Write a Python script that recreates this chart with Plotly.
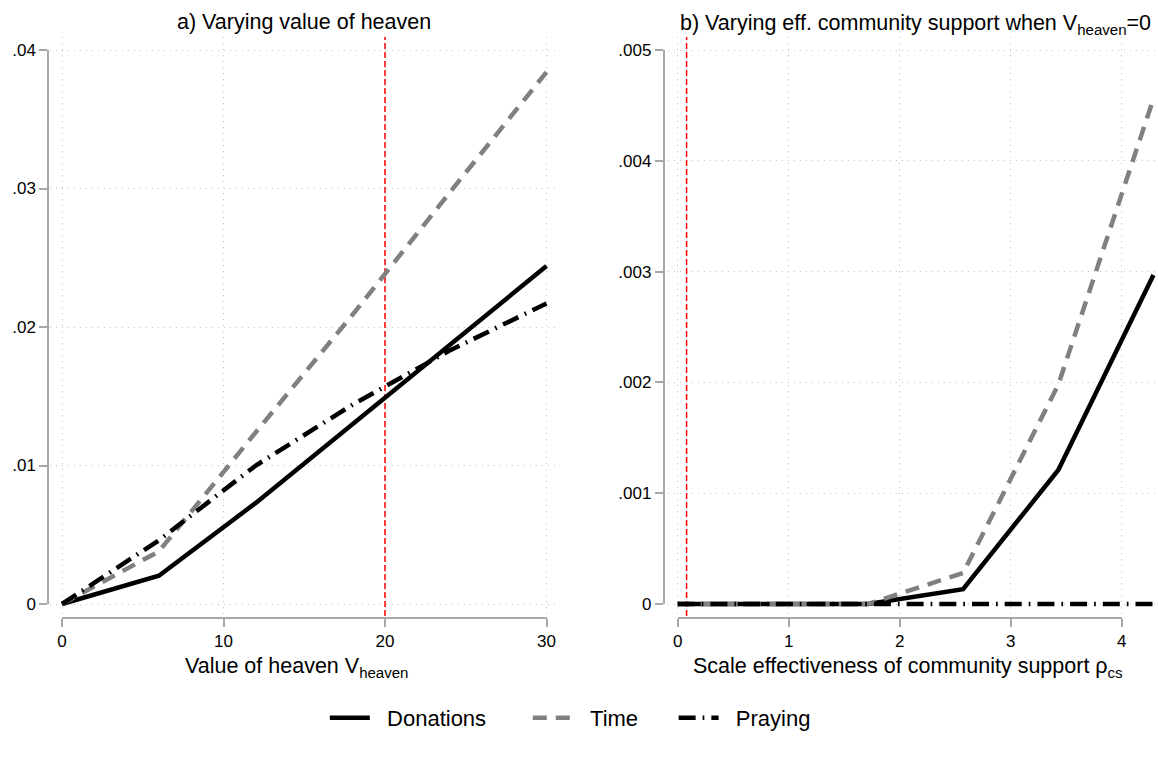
import plotly.graph_objects as go

# ---------------- data ----------------
x_heaven = [0, 6, 12, 18, 24, 30]
don_heaven = [0, 0.00204, 0.0073, 0.0130, 0.0188, 0.0244]
time_heaven = [0, 0.0038, 0.0124, 0.0209, 0.0297, 0.0384]
pray_heaven = [0, 0.0046, 0.0100, 0.0144, 0.0183, 0.0217]

x_cs = [0, 0.857, 1.714, 2.571, 3.429, 4.286]
don_cs = [0, 0, 0, 0.000133, 0.00121, 0.00297]
time_cs = [0, 0, 0, 0.00028, 0.00198, 0.00456]
pray_cs = [0, 0, 0, 0, 0, 0]

ref_heaven = 20
ref_cs = 0.08

xt_left = [0, 10, 20, 30]
yt_left = [0, 0.01, 0.02, 0.03, 0.04]
yt_left_txt = ["0", ".01", ".02", ".03", ".04"]
xt_right = [0, 1, 2, 3, 4]
yt_right = [0, 0.001, 0.002, 0.003, 0.004, 0.005]
yt_right_txt = ["0", ".001", ".002", ".003", ".004", ".005"]

names = ["Donations", "Time", "Praying"]

# ---------------- layout geometry (pixels) ----------------
W, H = 1158, 759
FONT = "Liberation Sans, Arial, Helvetica, sans-serif"
AX = "#a8a8a8"
GRID = "#c4c4c4"
NB = "\u00a0"

def px_x(p):
    return p / W

def px_y(p):
    return 1 - p / H

top_px, bot_px = 37, 616
y0_px, ytop_px = 604, 50
xaxis_line_px = 618

L_reg = (50, 555)
L_tick = (62, 546.5)
L_yline = 48
R_reg = (668, 1158)
R_tick = (677.7, 1121.7)
R_yline = 663.5

def lin_range(reg, tick, v0, v1):
    s = (tick[1] - tick[0]) / (v1 - v0)
    return [v0 + (reg[0] - tick[0]) / s, v0 + (reg[1] - tick[0]) / s]

def lin_range_y(v1):
    s = (y0_px - ytop_px) / v1
    return [-(bot_px - y0_px) / s, v1 + (ytop_px - top_px) / s]

yr_left = lin_range_y(0.04)
yr_right = lin_range_y(0.005)

styles = [
    dict(color="black", width=4.5, dash="solid"),
    dict(color="#808080", width=4.5, dash="14px,9px"),
    dict(color="black", width=4.5, dash="17px,7px,1.7px,7px"),
]
legend_labels = [NB * 2 + "Donations" + NB * 6,
                 NB * 2 + "Time" + NB * 5,
                 NB * 2 + "Praying"]

fig = go.Figure()
for i, ys in enumerate([don_heaven, time_heaven, pray_heaven]):
    fig.add_trace(go.Scatter(x=x_heaven, y=ys, mode="lines", name=legend_labels[i],
                             line=styles[i], xaxis="x", yaxis="y",
                             legendgroup=names[i], showlegend=True))
for i, ys in enumerate([don_cs, time_cs, pray_cs]):
    fig.add_trace(go.Scatter(x=x_cs, y=ys, mode="lines", name=names[i],
                             line=styles[i], xaxis="x2", yaxis="y2",
                             legendgroup=names[i], showlegend=False))
fig.add_trace(go.Scatter(x=[None], y=[None], xaxis="x3", yaxis="y3",
                         showlegend=False, hoverinfo="skip"))
fig.add_trace(go.Scatter(x=[None], y=[None], xaxis="x4", yaxis="y4",
                         showlegend=False, hoverinfo="skip"))

grid_common = dict(showgrid=True, gridcolor=GRID, gridwidth=1.2, griddash="1.2px,4.8px",
                   zeroline=False, showline=False, showticklabels=False, ticks="",
                   tickmode="array", fixedrange=True, automargin=False)
tick_common = dict(showgrid=False, zeroline=False, showline=True, linecolor=AX,
                   linewidth=1.5, ticks="outside", ticklen=8, tickwidth=1.5,
                   tickcolor=AX, tickfont=dict(family=FONT, size=17, color="black"),
                   tickmode="array", anchor="free", automargin=False)

dom_y = [px_y(bot_px), px_y(top_px)]
dom_ytick = [px_y(y0_px), px_y(ytop_px)]

fig.update_layout(
    xaxis=dict(domain=[px_x(L_reg[0]), px_x(L_reg[1])],
               range=lin_range(L_reg, L_tick, 0, 30), tickvals=xt_left,
               anchor="y", **grid_common),
    yaxis=dict(domain=dom_y, range=yr_left, tickvals=yt_left,
               anchor="x", **grid_common),
    xaxis2=dict(domain=[px_x(R_reg[0]), px_x(R_reg[1])],
                range=lin_range(R_reg, R_tick, 0, 4), tickvals=xt_right,
                anchor="y2", **grid_common),
    yaxis2=dict(domain=dom_y, range=yr_right, tickvals=yt_right,
                anchor="x2", **grid_common),
    xaxis3=dict(domain=[px_x(L_tick[0]), px_x(L_tick[1])], range=[0, 30],
                tickvals=xt_left, ticktext=[str(v) for v in xt_left],
                position=px_y(xaxis_line_px), **tick_common),
    yaxis3=dict(domain=dom_ytick, range=[0, 0.04], tickvals=yt_left,
                ticktext=yt_left_txt, position=px_x(L_yline), **tick_common),
    xaxis4=dict(domain=[px_x(R_tick[0]), px_x(R_tick[1])], range=[0, 4],
                tickvals=xt_right, ticktext=[str(v) for v in xt_right],
                position=px_y(xaxis_line_px), **tick_common),
    yaxis4=dict(domain=dom_ytick, range=[0, 0.005], tickvals=yt_right,
                ticktext=yt_right_txt, position=px_x(R_yline), **tick_common),
)

fig.add_shape(type="line", xref="x", yref="y", x0=ref_heaven, x1=ref_heaven,
              y0=yr_left[0], y1=yr_left[1], layer="between",
              line=dict(color="#ff0000", width=1.5, dash="6px,3px"))
fig.add_shape(type="line", xref="x2", yref="y2", x0=ref_cs, x1=ref_cs,
              y0=yr_right[0], y1=yr_right[1], layer="between",
              line=dict(color="#ff0000", width=1.5, dash="6px,3px"))

tfont = dict(family=FONT, size=21.5, color="black")
ann = [
    dict(text="a) Varying value of heaven", x=px_x(304), y=px_y(22)),
    dict(text="b) Varying eff. community support when V<sub>heaven</sub>=0",
         x=px_x(915), y=px_y(24)),
    dict(text="Value of heaven V<sub>heaven</sub>", x=px_x(297), y=px_y(667)),
    dict(text="Scale effectiveness of community support ρ<sub>cs</sub>",
         x=px_x(908), y=px_y(667)),
]
for a in ann:
    fig.add_annotation(xref="paper", yref="paper", showarrow=False,
                       xanchor="center", yanchor="middle", font=tfont, **a)

fig.update_layout(
    width=W, height=H,
    margin=dict(l=0, r=0, t=0, b=0, pad=0, autoexpand=False),
    paper_bgcolor="white", plot_bgcolor="rgba(0,0,0,0)",
    font=dict(family=FONT, color="black"),
    showlegend=True,
    legend=dict(orientation="h", x=0.4925, xanchor="center", y=px_y(718),
                yanchor="middle", font=dict(family=FONT, size=22, color="black"),
                itemwidth=40, bgcolor="rgba(0,0,0,0)", traceorder="normal"),
)

fig.write_html("out.html", config={"displayModeBar": False},
               post_script="document.body.style.margin='0';")
